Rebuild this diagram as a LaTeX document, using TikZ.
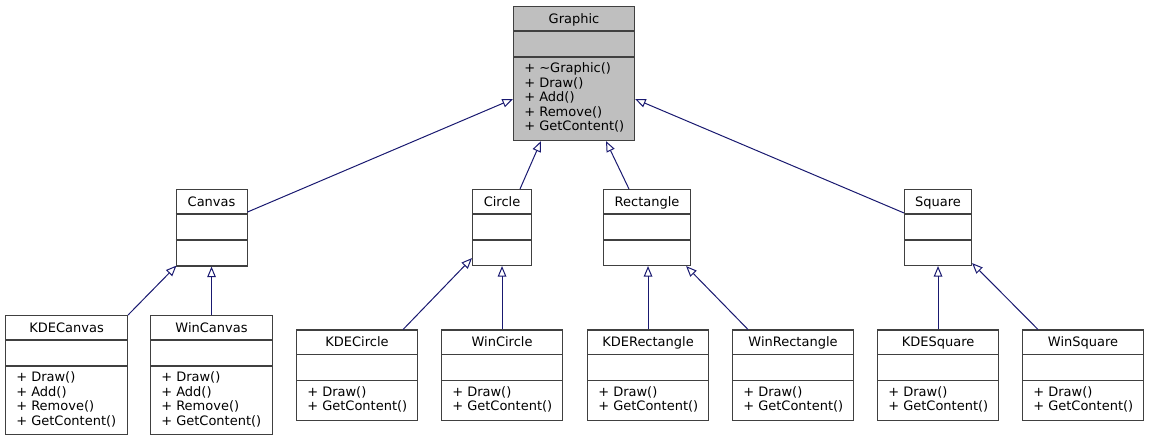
\documentclass[tikz,border=0pt]{standalone}
\usepackage{fontspec}
\setmainfont{DejaVu Sans}
\usetikzlibrary{arrows.meta,calc}
\definecolor{edgeblue}{HTML}{191970}
\definecolor{boxline}{HTML}{404040}
\definecolor{basefill}{HTML}{BFBFBF}

% [fill] name, left, top, width, height, methods (pixel units)
\newcommand{\umlclass}[7][white]{%
  \node[classbox,fill=#1,minimum width=#5*0.75pt,minimum height=#6*0.75pt,anchor=north west] (#2) at (#3,#4) {};
  \draw[divider] ($(#2.north west)+(0,25)$) -- ($(#2.north east)+(0,25)$);
  \draw[divider] ($(#2.north west)+(0,51)$) -- ($(#2.north east)+(0,51)$);
  \node[label text,anchor=base] at ($(#2.north)+(0,17.5)$) {#2};
  \node[label text,anchor=north west,align=left] at ($(#2.north west)+(11,56.5)$) {#7};
}

\begin{document}
\begin{tikzpicture}[x=0.75pt,y=-0.75pt,
  classbox/.style={draw=boxline,line width=0.8pt,inner sep=0pt},
  divider/.style={draw=boxline,line width=0.8pt},
  label text/.style={inner sep=0pt,font=\fontsize{9.75}{10.9}\selectfont},
  generalize/.style={draw=edgeblue,line width=0.75pt,-{Triangle[open,length=8pt,width=6.5pt]}}]
\useasboundingbox (0,0) rectangle (1149,441);
% base class
\umlclass[basefill]{Graphic}{513}{6}{121}{134}{+ \textasciitilde Graphic()\\+ Draw()\\+ Add()\\+ Remove()\\+ GetContent()}
% second row
\umlclass{Canvas}{175.5}{189}{71}{76.5}{}
\umlclass{Circle}{472}{189}{59}{76}{}
\umlclass{Rectangle}{603}{189}{87}{76}{}
\umlclass{Square}{904}{189}{67}{76}{}
% third row
\umlclass{KDECanvas}{5}{315}{122}{119}{+ Draw()\\+ Add()\\+ Remove()\\+ GetContent()}
\umlclass{WinCanvas}{150}{315}{122}{119}{+ Draw()\\+ Add()\\+ Remove()\\+ GetContent()}
\umlclass{KDECircle}{296}{329.5}{121}{90.5}{+ Draw()\\+ GetContent()}
\umlclass{WinCircle}{441}{329.5}{121}{90.5}{+ Draw()\\+ GetContent()}
\umlclass{KDERectangle}{587}{329.5}{121}{90.5}{+ Draw()\\+ GetContent()}
\umlclass{WinRectangle}{732}{329.5}{121}{90.5}{+ Draw()\\+ GetContent()}
\umlclass{KDESquare}{877}{329.5}{121}{90.5}{+ Draw()\\+ GetContent()}
\umlclass{WinSquare}{1022}{329.5}{121}{90.5}{+ Draw()\\+ GetContent()}
% inheritance
\draw[generalize] ($(Canvas.north east)+(0,23)$) -- ($(Graphic.north west)+(0,93)$);
\draw[generalize] ($(Circle.north west)+(48,0)$) -- ($(Graphic.south west)+(28,0)$);
\draw[generalize] ($(Rectangle.north west)+(26,0)$) -- ($(Graphic.south west)+(93,0)$);
\draw[generalize] ($(Square.north west)+(0,24)$) -- ($(Graphic.north east)+(0,93)$);
\draw[generalize] (KDECanvas.north east) -- ($(Canvas.south west)+(1,-1)$);
\draw[generalize] (WinCanvas.north) -- (Canvas.south);
\draw[generalize] ($(KDECircle.north east)+(-15,0)$) -- ($(Circle.south west)+(0,-8)$);
\draw[generalize] (WinCircle.north) -- (Circle.south);
\draw[generalize] (KDERectangle.north) -- (KDERectangle.north |- Rectangle.south);
\draw[generalize] ($(WinRectangle.north west)+(16,0)$) -- ($(Rectangle.south east)+(-5,0)$);
\draw[generalize] (KDESquare.north) -- (Square.south);
\draw[generalize] ($(WinSquare.north west)+(16,0)$) -- ($(Square.south east)+(0,-3)$);
\end{tikzpicture}
\end{document}
